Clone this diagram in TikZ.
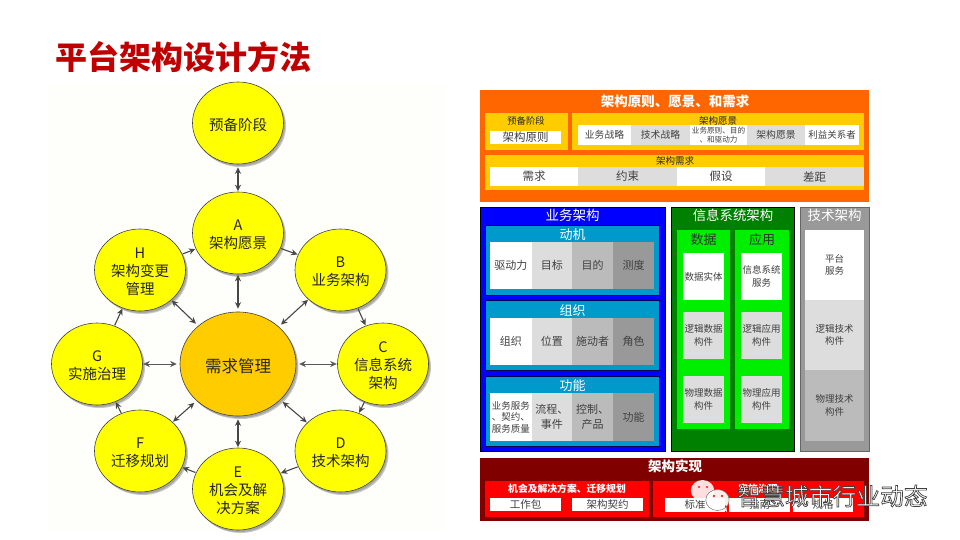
\documentclass[tikz,border=0pt]{standalone}
\usepackage{fontspec}
\setmainfont{Noto Sans CJK SC}
\usetikzlibrary{shapes.geometric,arrows.meta}
\definecolor{cYellow}{HTML}{FFFF00}
\definecolor{cRed}{HTML}{FF0000}
\definecolor{cBlue}{HTML}{0000FF}
\definecolor{cOrange}{HTML}{FF6600}
\definecolor{cGold}{HTML}{FFCC00}
\definecolor{cTeal}{HTML}{0099CC}
\definecolor{cDkGreen}{HTML}{008000}
\definecolor{cLime}{HTML}{00EE00}
\definecolor{cDkRed}{HTML}{800000}
\definecolor{cTitle}{HTML}{C00000}
\definecolor{cPale}{HTML}{FEFEFB}
\definecolor{gA}{HTML}{DDDDDD}
\definecolor{gB}{HTML}{BBBBBB}
\definecolor{gC}{HTML}{999999}
\definecolor{txt}{HTML}{404040}
\tikzset{
  fs/.style={font=\fontsize{#1}{#1}\selectfont},
  boxstyle/.style={draw=none,inner sep=0pt,outer sep=0pt,rectangle,align=center,text=#1},
  circ/.style={ellipse,draw=black!75,line width=0.6pt,fill=#1,inner sep=0pt,align=center,text=black!85,
    preaction={draw=none,fill=black,opacity=0.16,transform canvas={shift={(1.5pt,-2pt)}}},
    preaction={draw=none,fill=black,opacity=0.22,transform canvas={shift={(2.5pt,-3pt)}}}},
  big/.style={circ=cYellow,minimum width=91pt,minimum height=82pt},
  ctext/.style={font=\fontsize{14.5}{18}\selectfont},
  link/.style={draw=black!72,line width=1.1pt,-{Stealth[length=6.5pt,width=6pt]},shorten >=0.5pt,shorten <=0.5pt},
  dlink/.style={draw=black!72,line width=1.1pt,{Stealth[length=6.5pt,width=6pt]}-{Stealth[length=6.5pt,width=6pt]},shorten >=0.5pt,shorten <=3pt},
  dthin/.style={draw=black!65,line width=0.6pt,{Stealth[length=6.5pt,width=6pt]}-{Stealth[length=6.5pt,width=6pt]},shorten >=0.5pt,shorten <=3pt},
}
% text lowered inside its circle, without changing the size of the line
\newcommand{\dn}[1]{\raisebox{-2pt}[\height][\depth]{#1}}
% \bx{name}{x1}{y1}{x2}{y2}{fill}{extra}{text}
\newcommand{\bx}[8]{\node[boxstyle=txt,fill=#6,minimum width={(#4-#2)*1pt},minimum height={(#5-#3)*1pt},#7] (#1) at ({(#2+#4)/2},{(#3+#5)/2}) {#8};}
% \lb{name}{x}{y}{size}{colour}{text}
\newcommand{\lb}[6]{\node[inner sep=0pt,align=center,text=#5,fs=#4] (#1) at (#2,#3) {#6};}
\begin{document}
\begin{tikzpicture}[x=1pt,y=-1pt]
\useasboundingbox (0,0) rectangle (960,540);
\fill[white] (0,0) rectangle (960,540);
\fill[cPale] (48,85) rectangle (445,530);
\lb{title}{183}{57}{32}{cTitle}{\bfseries 平台架构设计方法}

% cycle
\node[big,ctext] (P) at (238,123) {\dn{预备阶段}};
\node[big,ctext] (A) at (238,233) {\dn{A}\\\dn{架构愿景}};
\node[big,ctext] (B) at (340.5,270) {\dn{B}\\\dn{业务架构}};
\node[big,ctext] (C) at (383,364) {\dn{C}\\\dn{信息系统}\\\dn{架构}};
\node[big,ctext] (D) at (340.5,451) {\dn{D}\\\dn{技术架构}};
\node[big,ctext] (E) at (238,489) {\dn{E}\\\dn{机会及解}\\\dn{决方案}};
\node[big,ctext] (F) at (140,451) {\dn{F}\\\dn{迁移规划}};
\node[big,ctext] (G) at (97,364) {\dn{G}\\\dn{实施治理}};
\node[big,ctext] (H) at (140,270) {\dn{H}\\\dn{架构变更}\\\dn{管理}};
\node[circ=cGold,minimum width=116pt,minimum height=104pt,font=\fontsize{16.5}{20}\selectfont] (R) at (238,364) {\dn{需求管理}};

\draw[dlink] (P) -- (A);
\draw[dlink] (R) -- (A);
\draw[dlink] (R) -- (E);
\draw[dlink] (R) -- (B);
\draw[dthin] (R) -- (C);
\draw[dlink] (R) -- (D);
\draw[dlink] (R) -- (F);
\draw[dthin] (R) -- (G);
\draw[dlink] (R) -- (H);
\draw[link] (A) -- (B);
\draw[link] (B) -- (C);
\draw[link] (C) -- (D);
\draw[link] (D) -- (E);
\draw[link] (E) -- (F);
\draw[link] (F) -- (G);
\draw[link] (G) -- (H);
\draw[link] (H) -- (A);

% top orange
\bx{o}{480}{90}{869}{202}{cOrange}{}{}
\lb{ot}{675}{101}{13.5}{white}{\bfseries 架构原则、愿景、和需求}
\bx{o1}{485}{113.5}{568}{150}{cGold}{}{}
\lb{o1t}{526}{121}{9.3}{black!85}{预备阶段}
\bx{o1a}{490}{131}{561}{144}{white}{fs=11.5}{架构原则}
\bx{o2}{572}{113.5}{864}{150}{cGold}{}{}
\lb{o2t}{718}{120.5}{9.5}{black!85}{架构愿景}
\bx{o2a}{578}{125}{631}{145.5}{white}{fs=9.8}{业务战略}
\bx{o2b}{631}{125}{690}{145.5}{gA}{fs=9.8}{技术战略}
\bx{o2c}{690}{125}{747}{145.5}{white}{font=\fontsize{7.6}{9}\selectfont}{业务原则、目的\\、和驱动力}
\bx{o2d}{747}{125}{805}{145.5}{gA}{fs=9.8}{架构愿景}
\bx{o2e}{805}{125}{859}{145.5}{white}{fs=9.5}{利益关系者}
\bx{o3}{485}{155}{864}{190}{cGold}{}{}
\lb{o3t}{675}{161}{9.5}{black!85}{架构需求}
\bx{o3a}{490}{167}{578}{186}{white}{fs=11.5}{需求}
\bx{o3b}{578}{167}{677}{186}{gA}{fs=11.5}{约束}
\bx{o3c}{677}{167}{765}{186}{white}{fs=11.5}{假设}
\bx{o3d}{765}{167}{864}{186}{gA}{fs=11.5}{差距}

% blue
\bx{b}{480}{207}{665.5}{451}{cBlue}{draw=black,line width=0.6pt}{}
\lb{bt}{572.5}{215}{13.5}{white}{业务架构}
\bx{b1}{485.5}{225}{659.5}{295}{cTeal}{draw=black!70!blue,line width=0.5pt}{}
\lb{b1t}{572.5}{235}{13}{white}{动机}
\bx{b1a}{490}{241.5}{531.5}{289}{white}{fs=11}{驱动力}
\bx{b1b}{531.5}{241.5}{572}{289}{gA}{fs=11}{目标}
\bx{b1c}{572}{241.5}{613}{289}{gB}{fs=11}{目的}
\bx{b1d}{613}{241.5}{654}{289}{gC}{fs=11}{测度}
\bx{b2}{485.5}{300}{659.5}{370}{cTeal}{draw=black!70!blue,line width=0.5pt}{}
\lb{b2t}{572.5}{311}{13}{white}{组织}
\bx{b2a}{490}{318}{531.5}{365}{white}{fs=11}{组织}
\bx{b2b}{531.5}{318}{572}{365}{gA}{fs=11}{位置}
\bx{b2c}{572}{318}{613}{365}{gB}{fs=11}{施动者}
\bx{b2d}{613}{318}{654}{365}{gC}{fs=11}{角色}
\bx{b3}{485.5}{376.5}{659.5}{446}{cTeal}{draw=black!70!blue,line width=0.5pt}{}
\lb{b3t}{572.5}{386}{13}{white}{功能}
\bx{b3a}{490}{393}{531.5}{441}{white}{font=\fontsize{9.5}{11.5}\selectfont}{业务服务\\、契约、\\服务质量}
\bx{b3b}{531.5}{393}{572}{441}{gA}{font=\fontsize{11}{14.5}\selectfont}{流程、\\事件}
\bx{b3c}{572}{393}{613}{441}{gB}{font=\fontsize{11}{14.5}\selectfont}{控制、\\产品}
\bx{b3d}{613}{393}{654}{441}{gC}{fs=11}{功能}

% green
\bx{g}{671}{207}{794}{451}{cDkGreen}{draw=black,line width=0.6pt}{}
\lb{gt}{733}{215}{13.4}{white}{信息系统架构}
\bx{g1}{677}{230}{730}{429}{cLime}{}{}
\lb{g1t}{703.5}{240}{13}{black!80}{数据}
\bx{g2}{735}{230}{789}{429}{cLime}{}{}
\lb{g2t}{762}{240}{13}{black!80}{应用}
\bx{g1a}{683}{253}{724}{300}{white}{fs=9.5}{数据实体}
\bx{g1b}{683}{311.5}{724}{359}{gA}{font=\fontsize{9.5}{12.5}\selectfont}{逻辑数据\\构件}
\bx{g1c}{683}{376}{724}{423}{gA}{font=\fontsize{9.5}{12.5}\selectfont}{物理数据\\构件}
\bx{g2a}{741}{253}{782}{300}{white}{font=\fontsize{9.5}{12.5}\selectfont}{信息系统\\服务}
\bx{g2b}{741}{311.5}{782}{359}{gA}{font=\fontsize{9.5}{12.5}\selectfont}{逻辑应用\\构件}
\bx{g2c}{741}{376}{782}{423}{gA}{font=\fontsize{9.5}{12.5}\selectfont}{物理应用\\构件}

% grey
\bx{t}{800}{207}{869}{451}{gC}{draw=black!60,line width=0.6pt}{}
\lb{tt}{834.5}{215}{13.5}{white}{技术架构}
\bx{ta}{805}{230}{864}{300}{white}{font=\fontsize{9.5}{12.5}\selectfont}{平台\\服务}
\bx{tb}{805}{300}{864}{370}{gA}{font=\fontsize{9.5}{12.5}\selectfont}{逻辑技术\\构件}
\bx{tc}{805}{370}{864}{441}{gB}{font=\fontsize{9.5}{12.5}\selectfont}{物理技术\\构件}

% red
\bx{r}{480}{458}{869}{521}{cDkRed}{}{}
\lb{rt}{675}{466}{13.5}{white}{\bfseries 架构实现}
\bx{r1}{485}{480.5}{649}{517}{cRed}{}{}
\lb{r1t}{567}{488.5}{9.8}{white}{\bfseries 机会及解决方案、迁移规划}
\bx{r1a}{490}{498}{561}{511}{white}{fs=10.5}{工作包}
\bx{r1b}{572}{498}{643}{511}{white}{fs=10.5}{架构契约}
\bx{r2}{653}{480.5}{864}{517}{cRed}{}{}
\lb{r2t}{758}{488.5}{9.8}{white}{\bfseries 实施治理}
\bx{r2a}{665}{498}{725}{511.5}{white}{fs=10.5}{标准}
\bx{r2b}{729}{498}{790}{511.5}{white}{fs=10.5}{指南}
\bx{r2c}{793}{498}{853}{511.5}{white}{fs=10.5}{规格}

% watermark
\fill[white,opacity=0.87] (702.5,490.5) ellipse (11.7 and 10.5);
\fill[cRed,opacity=0.9] (699,487) circle (1.2) (707,487) circle (1.2);
\fill[white,opacity=0.92] (717.5,500) ellipse (11.7 and 10.5) (722,508) -- (727,512) -- (726,505) -- cycle;
\draw[black!55,line width=0.5pt] (717.5,500) ellipse (11.7 and 10.5);
\fill[cRed!85!black] (714,496) circle (1.2) (722,496) circle (1.2);
\node[inner sep=0pt,fs=23.8,text=white] (wm) at (832.5,496) {\special{pdf:code q 2 Tr 0.7 w 0.25 G 1 g}智慧城市行业动态\special{pdf:code Q}};
\end{tikzpicture}
\end{document}
